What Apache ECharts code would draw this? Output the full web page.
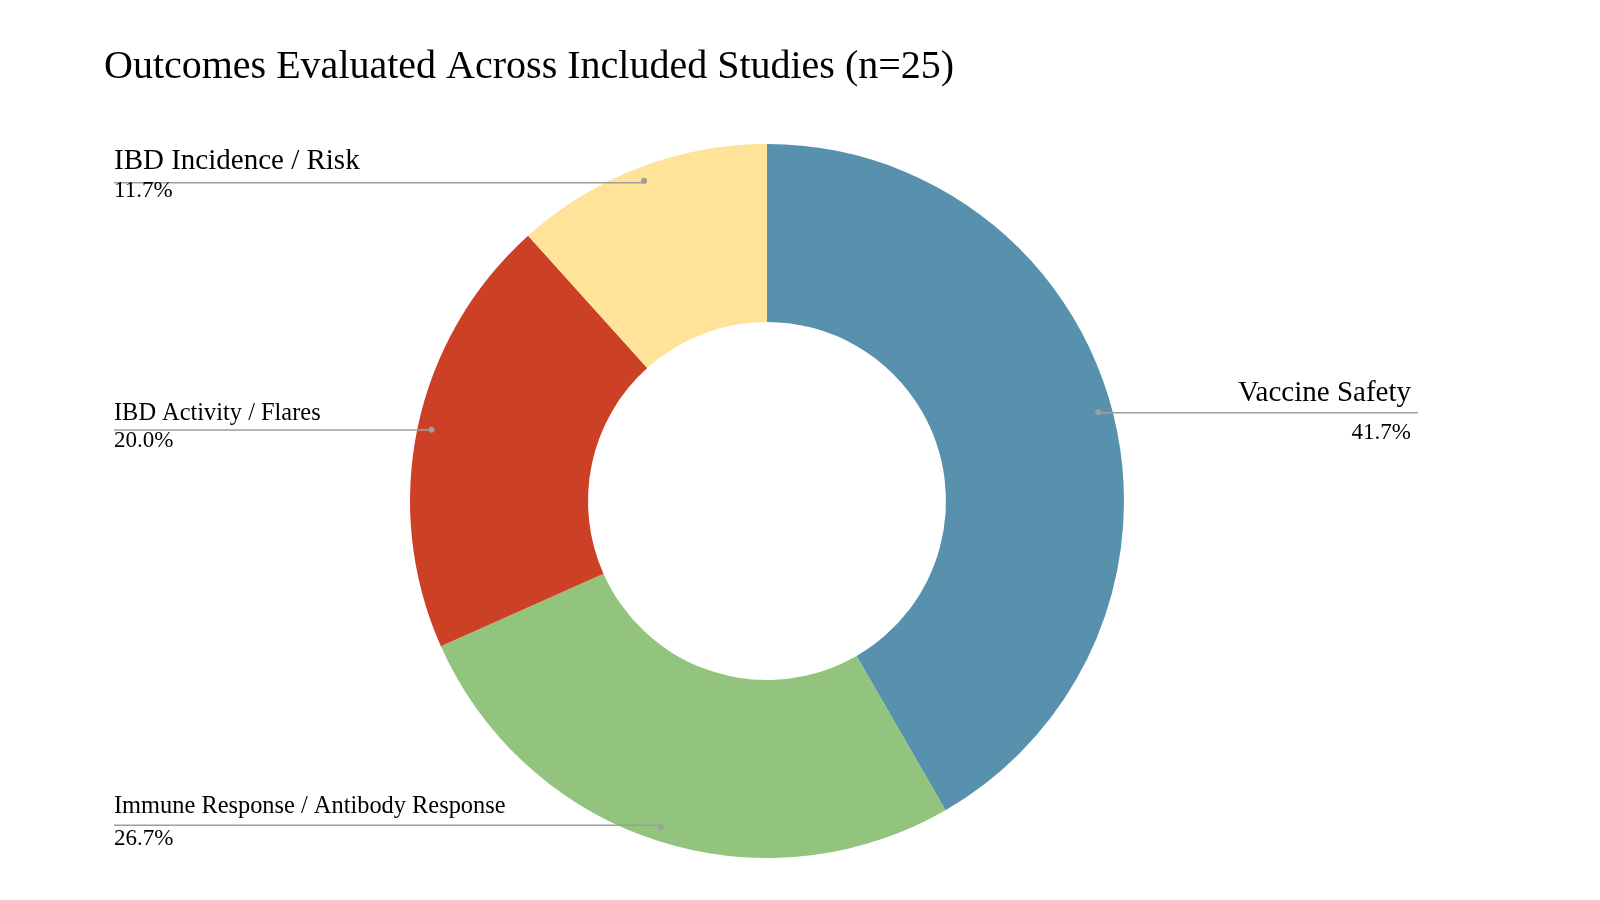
<!DOCTYPE html>
<html>
<head>
<meta charset="utf-8">
<title>Outcomes Evaluated Across Included Studies</title>
<script src="https://cdn.jsdelivr.net/npm/echarts@6/dist/echarts.min.js"></script>
<style>
  html, body { margin: 0; padding: 0; background: #fff; }
  #main { width: 1600px; height: 900px; }
</style>
</head>
<body>
<div id="main"></div>
<script>
// outcome categories and number of outcome mentions (60 in total)
var outcomes = ["Vaccine Safety", "Immune Response / Antibody Response", "IBD Activity / Flares", "IBD Incidence / Risk"];
var studyCounts = [25, 16, 12, 7];

var sliceColors = ["#5891ad", "#93c47d", "#cc4125", "#fee398"];

// label text tweaks per slice: name font size, line heights and padding
var nameFontSizes = [29, 24.4, 24.4, 29];
var nameLineHeights = [30, 28, 28, 30];
var pctLineHeights = [48, 38, 28, 28];
var labelPadTop = [10, 0, 0, 0];
var labelPadBottom = [0, 0, 6, 14];

var serif = "Liberation Serif, Times New Roman, serif";
var center = [767, 501];
var seriesRight = 68;
var edgeGap = 114;

var chart = echarts.init(document.getElementById("main"));

var total = studyCounts.reduce(function (a, b) { return a + b; }, 0);

var donutData = [];
var labelData = [];
for (var i = 0; i < outcomes.length; i++) {
  donutData.push({ name: outcomes[i], value: studyCounts[i], itemStyle: { color: sliceColors[i] } });
  labelData.push({
    name: outcomes[i],
    value: studyCounts[i],
    label: {
      padding: [labelPadTop[i], 7, labelPadBottom[i], 0],
      rich: {
        n: { fontSize: nameFontSizes[i], lineHeight: nameLineHeights[i], fontFamily: serif, color: "#000" },
        p: { fontSize: 23, lineHeight: pctLineHeights[i], fontFamily: serif, color: "#000" }
      }
    }
  });
}

var option = {
  backgroundColor: "#fff",
  animation: false,
  title: {
    text: "Outcomes Evaluated Across Included Studies (n=25)",
    left: 99,
    top: 42,
    textStyle: { fontFamily: serif, fontSize: 40, fontWeight: "normal", color: "#000" }
  },
  series: [
    {
      // the visible ring
      type: "pie",
      z: 2,
      center: center,
      radius: [179, 357],
      startAngle: 90,
      silent: true,
      label: { show: false },
      labelLine: { show: false },
      data: donutData
    },
    {
      // transparent copy that carries the labels and leader lines
      type: "pie",
      z: 3,
      center: center,
      radius: [0, 340],
      startAngle: 90,
      silent: true,
      left: 0,
      right: seriesRight,
      itemStyle: { color: "rgba(0,0,0,0)" },
      label: {
        show: true,
        alignTo: "edge",
        edgeDistance: edgeGap,
        fontFamily: serif,
        formatter: function (p) {
          return "{n|" + p.name + "}\n{p|" + (p.value / total * 100).toFixed(1) + "%}";
        }
      },
      labelLine: {
        show: true,
        length: 1,
        length2: 0,
        minTurnAngle: 0,
        lineStyle: { color: "#9e9e9e", width: 1.5 }
      },
      labelLayout: function (params) {
        var isLeft = params.labelRect.x < chart.getWidth() / 2;
        var pts = params.labelLinePoints;
        pts[2][0] = isLeft ? params.labelRect.x : chart.getWidth() - seriesRight - edgeGap;
        return { labelLinePoints: pts };
      },
      data: labelData
    },
    {
      // small dots where the leader lines start
      type: "pie",
      z: 4,
      center: center,
      radius: [328, 352],
      startAngle: 90,
      silent: true,
      itemStyle: { color: "rgba(0,0,0,0)" },
      label: {
        show: true,
        position: "inside",
        formatter: " ",
        fontSize: 1,
        width: 6,
        height: 6,
        padding: 0,
        borderRadius: 3,
        backgroundColor: "#9e9e9e"
      },
      labelLine: { show: false },
      data: studyCounts.map(function (v, i) { return { name: outcomes[i], value: v }; })
    }
  ]
};

chart.setOption(option);
</script>
</body>
</html>
